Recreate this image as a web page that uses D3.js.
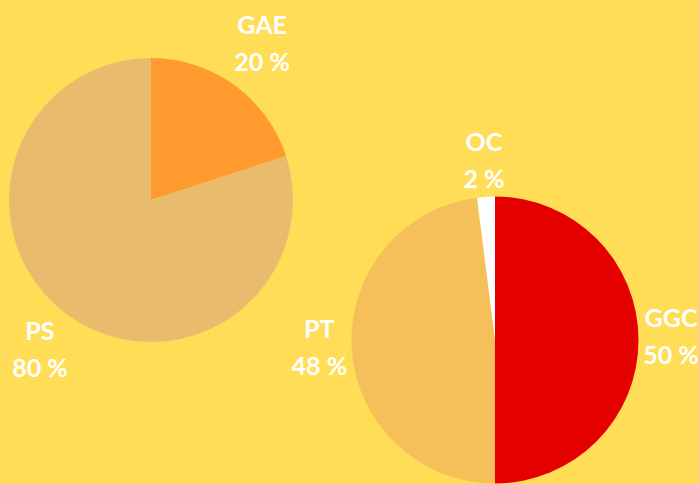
<!DOCTYPE html>
<html><head><meta charset="utf-8">
<script src="https://cdn.jsdelivr.net/npm/d3@7"></script>
<style>html,body{margin:0;padding:0;background:#FFDD57;}svg{display:block;}</style>
</head><body>
<script>
const leftCategories = ["GAE", "PS"];
const leftValues = [20, 80];
const leftColors = ["#FF9A2E", "#E8BC6C"];
const rightCategories = ["GGC", "PT", "OC"];
const rightValues = [50, 48, 2];
const rightColors = ["#E50000", "#F5C059", "#FFFFFF"];

const W = 699, H = 484;
const svg = d3.select("body").append("svg").attr("width", W).attr("height", H);
svg.append("rect").attr("width", W).attr("height", H).attr("fill", "#FFDD57");

function drawPie(cats, vals, colors, cx, cy, r, lr) {
  const data = cats.map((c, i) => ({cat: c, val: vals[i], color: colors[i]}));
  const pie = d3.pie().sort(null).value(d => d.val);
  const arcs = pie(data);
  const arc = d3.arc().innerRadius(0).outerRadius(r);
  const labelArc = d3.arc().innerRadius(lr).outerRadius(lr);
  const g = svg.append("g").attr("transform", `translate(${cx},${cy})`);
  g.selectAll("path").data(arcs).join("path")
    .attr("d", arc).attr("fill", d => d.data.color);
  const lab = g.selectAll("g.lab").data(arcs).join("g").attr("class", "lab")
    .attr("transform", d => `translate(${labelArc.centroid(d)})`);
  const total = d3.sum(vals);
  lab.append("text").attr("y", -13).attr("text-anchor", "middle")
    .attr("fill", "#fff").attr("font-family", "Lato, sans-serif").attr("font-weight", "bold")
    .attr("font-size", 25).text(d => d.data.cat);
  lab.append("text").attr("y", 24).attr("text-anchor", "middle")
    .attr("fill", "#fff").attr("font-family", "Lato, sans-serif").attr("font-weight", "bold")
    .attr("font-size", 25).text(d => Math.round(d.data.val / total * 100) + " %");
}

drawPie(leftCategories, leftValues, leftColors, 151, 200, 142, 189);
drawPie(rightCategories, rightValues, rightColors, 495, 340, 143.5, 176);
</script>
</body></html>
